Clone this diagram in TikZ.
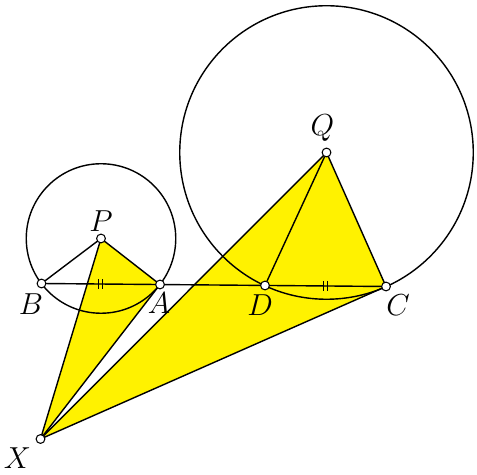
\documentclass[tikz,border=0pt]{standalone}
\usepackage{tikz}
\usetikzlibrary{calc,backgrounds}
\tikzstyle{edge}=[line width=0.8pt, line join=round]
\tikzstyle{face}=[edge, fill=yellow]
\tikzstyle{vertex}=[circle, fill=white, draw, line width=0.6pt,
                    minimum size=5pt,
                    inner sep=0pt, outer sep=0pt]
\tikzstyle{lbl}=[font=\fontsize{16}{19}\selectfont, inner sep=0pt]
\tikzstyle{tick}=[line width=0.8pt]

\begin{document}
\begin{tikzpicture}
    \useasboundingbox (0,0) rectangle (9.54,9.48);
    \node (B) at (0.83,3.81) [vertex]{};
    \node (A) at (3.20,3.79) [vertex]{};
    \node (D) at (5.30,3.77) [vertex]{};
    \node (C) at (7.72,3.75) [vertex]{};
    \node (P) at (2.02,4.71) [vertex]{};
    \node (Q) at (6.53,6.43) [vertex]{};
    \node (X) at (0.81,0.70) [vertex]{};

    \node (lB) at ($(B)+(-0.21,-0.41)$) [lbl]{$B$};
    \node (lA) at ($(A)+(-0.02,-0.37)$) [lbl]{$A$};
    \node (lD) at ($(D)+(-0.10,-0.40)$) [lbl]{$D$};
    \node (lC) at ($(C)+(0.24,-0.38)$)  [lbl]{$C$};
    \node (lP) at ($(P)+(0,0.34)$)      [lbl]{$P$};
    \node (lQ) at ($(Q)+(-0.08,0.49)$)  [lbl]{$Q$};
    \node (lX) at ($(X)+(-0.46,-0.39)$) [lbl]{$X$};

    \begin{scope}[on background layer]
      \draw [face] (X.center) -- (P.center) -- (A.center) -- cycle;
      \draw [face] (X.center) -- (Q.center) -- (C.center) -- cycle;
      \draw [edge] (P) circle (1.495);
      \draw [edge] (Q) circle (2.935);
      \foreach \u/\v in {B/C,P/B,Q/D}
        \draw [edge] (\u) to (\v);
      % equal chords
      \foreach \u/\v in {B/A,D/C}
        \foreach \s in {-0.04,0.04}
          \draw [tick] ($(\u)!0.5!(\v)+(\s,-0.1)$) -- ++(0,0.2);
    \end{scope}
\end{tikzpicture}
\end{document}
